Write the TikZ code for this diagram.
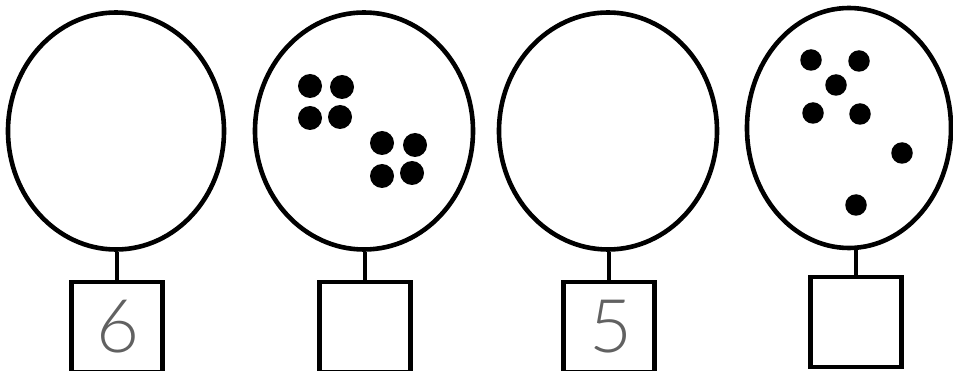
\documentclass[tikz,border=0pt]{standalone}
\usepackage{fontspec}
\usetikzlibrary{shapes.geometric}
\newfontfamily\digitfont{Lato Light}
\begin{document}
\begin{tikzpicture}[x=1pt,y=-1pt,
  ring/.style={draw=black,line width=4.6pt,ellipse,inner sep=0pt},
  answerbox/.style={draw=black,line width=4.4pt,rectangle,inner sep=0pt,minimum width=91pt,minimum height=90pt},
  stem/.style={line width=4pt},
  dot/.style={circle,fill=black,inner sep=0pt,minimum size=24pt},
  sdot/.style={circle,fill=black,inner sep=0pt,minimum size=21.5pt},
  digit/.style={text=black!62,font=\digitfont\fontsize{74}{74}\selectfont,inner sep=0pt}]
\useasboundingbox (0,0) rectangle (953,371);
\clip (0,0) rectangle (953,371);
% circles
\node[ring,minimum width=216pt,minimum height=237pt] (c1) at (116,131) {};
\node[ring,minimum width=218pt,minimum height=237pt] (c2) at (364,131) {};
\node[ring,minimum width=218pt,minimum height=237pt] (c3) at (608,131) {};
\node[ring,minimum width=204pt,minimum height=240pt] (c4) at (849,128) {};
% boxes
\node[answerbox] (b1) at (117,327) {};
\node[answerbox] (b2) at (365,327) {};
\node[answerbox] (b3) at (609,327) {};
\node[answerbox] (b4) at (856,322) {};
% stems
\draw[stem] (b1.north) -- (b1.north |- c1.south);
\draw[stem] (b2.north) -- (b2.north |- c2.south);
\draw[stem] (b3.north) -- (b3.north |- c3.south);
\draw[stem] (b4.north) -- (b4.north |- c4.south);
% digits
\node[digit] (d1) at (118,327) {6};
\node[digit] (d3) at (611,327) {5};
% dots in circle 2
\node[dot] (p1) at (310,86) {};
\node[dot] (p2) at (342,87) {};
\node[dot] (p3) at (310,118) {};
\node[dot] (p4) at (340,117) {};
\node[dot] (p5) at (382,143) {};
\node[dot] (p6) at (415,145) {};
\node[dot] (p7) at (382,176) {};
\node[dot] (p8) at (412,173) {};
% dots in circle 4
\node[sdot] (q1) at (811,60) {};
\node[sdot] (q2) at (859,61) {};
\node[sdot] (q3) at (836,85) {};
\node[sdot] (q4) at (813,113) {};
\node[sdot] (q5) at (860,114) {};
\node[sdot] (q6) at (902,153) {};
\node[sdot] (q7) at (856,205) {};
\end{tikzpicture}
\end{document}
